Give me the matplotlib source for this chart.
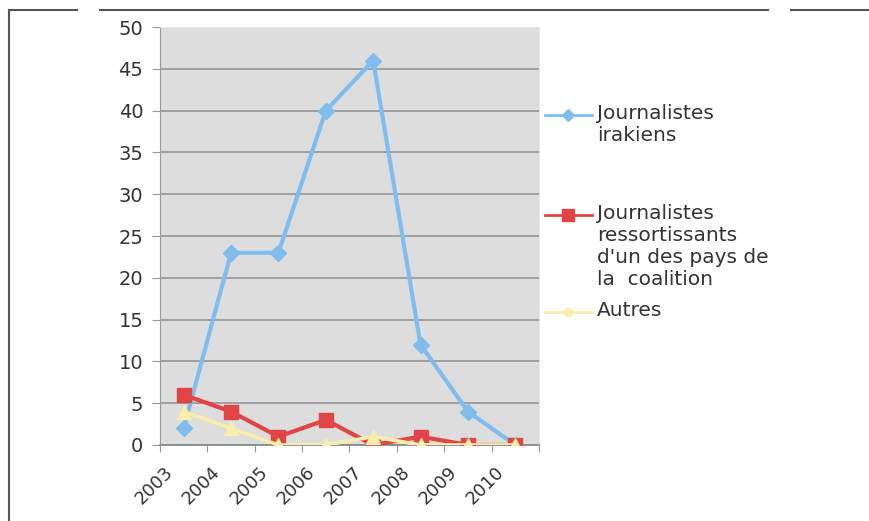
import numpy as np
import matplotlib.pyplot as plt
from matplotlib.lines import Line2D
from matplotlib.transforms import ScaledTranslation

# Données
annees = ['2003', '2004', '2005', '2006', '2007', '2008', '2009', '2010']
irakiens = [2, 23, 23, 40, 46, 12, 4, 0]
coalition = [6, 4, 1, 3, 0, 1, 0, 0]
autres = [4, 2, 0, 0, 1, 0, 0, 0]
libelles = ['Journalistes\nirakiens',
            "Journalistes\nressortissants\nd'un des pays de\nla  coalition",
            'Autres']

c_bleu, c_rouge, c_jaune = '#80bdee', '#e04444', '#f6eeaa'

plt.rcParams['font.family'] = ['DejaVu Sans']
fig = plt.figure(figsize=(8.7, 5.21), dpi=100)
ax = fig.add_axes([0.1839, 0.1459, 0.4356, 0.8021])

x = np.arange(len(annees)) + 0.5
ax.plot(x, irakiens, color=c_bleu, lw=3, marker='D', ms=8, zorder=3)
ax.plot(x, coalition, color=c_rouge, lw=3, marker='s', ms=10, zorder=4)
ax.plot(x, autres, color=c_jaune, lw=2.6, marker='^', ms=10, zorder=5)

ax.set_facecolor('#dddddd')
ax.set_xlim(0, len(annees))
ax.set_ylim(0, 50)
ax.set_yticks(np.arange(0, 51, 5))
ax.yaxis.grid(True, color='#9a9a9a', lw=1.3)
ax.set_axisbelow(True)

ax.set_xticks(np.arange(len(annees) + 1))
ax.set_xticklabels([])
ax.set_xticks(x, minor=True)
ax.set_xticklabels(annees, minor=True, rotation=45, ha='right',
                   rotation_mode='anchor')
ax.tick_params(axis='x', which='minor', length=0, pad=13, labelsize=13,
               labelcolor='#333333')
ax.tick_params(axis='x', which='major', length=5, color='#999999')
ax.tick_params(axis='y', length=6, color='#999999', pad=6, labelsize=14,
               labelcolor='#333333')
# décalage des années vers la gauche (après tick_params)
decal = ScaledTranslation(-20 / 100, 0, fig.dpi_scale_trans)
for t in ax.get_xticklabels(minor=True):
    t.set_transform(t.get_transform() + decal)
for s in ['top', 'right']:
    ax.spines[s].set_color('#e8e8e8')
ax.spines['left'].set_color('#999999')
ax.spines['bottom'].set_color('#8a8a8a')
ax.spines['bottom'].set_linewidth(1.3)

# Légende manuelle (marqueur aligné sur la première ligne)
styles = [(c_bleu, 'D', 6), (c_rouge, 's', 8), (c_jaune, 'o', 6)]
ys = [115, 215, 312]
for (col, mk, ms), lab, yp in zip(styles, libelles, ys):
    yf = 1 - yp / 521
    fig.add_artist(Line2D([545 / 870, 592 / 870], [yf, yf], color=col, lw=2,
                          transform=fig.transFigure))
    fig.add_artist(Line2D([568 / 870], [yf], color=col, marker=mk, ms=ms,
                          transform=fig.transFigure))
    fig.text(597 / 870, yf + 11 / 521, lab, va='top', ha='left',
             fontsize=14.5, color='#333333', linespacing=1.2)

# Cadre de la figure
for xs, yv in [([9, 77], 10), ([100, 768], 10), ([791, 870], 10)]:
    fig.add_artist(Line2D([xs[0] / 870, xs[1] / 870], [1 - yv / 521] * 2,
                          color='#555555', lw=1.5, transform=fig.transFigure))
fig.add_artist(Line2D([9.5 / 870] * 2, [1 - 10 / 521, 0], color='#555555',
                      lw=1.5, transform=fig.transFigure))

fig.savefig('out.png', dpi=100)
